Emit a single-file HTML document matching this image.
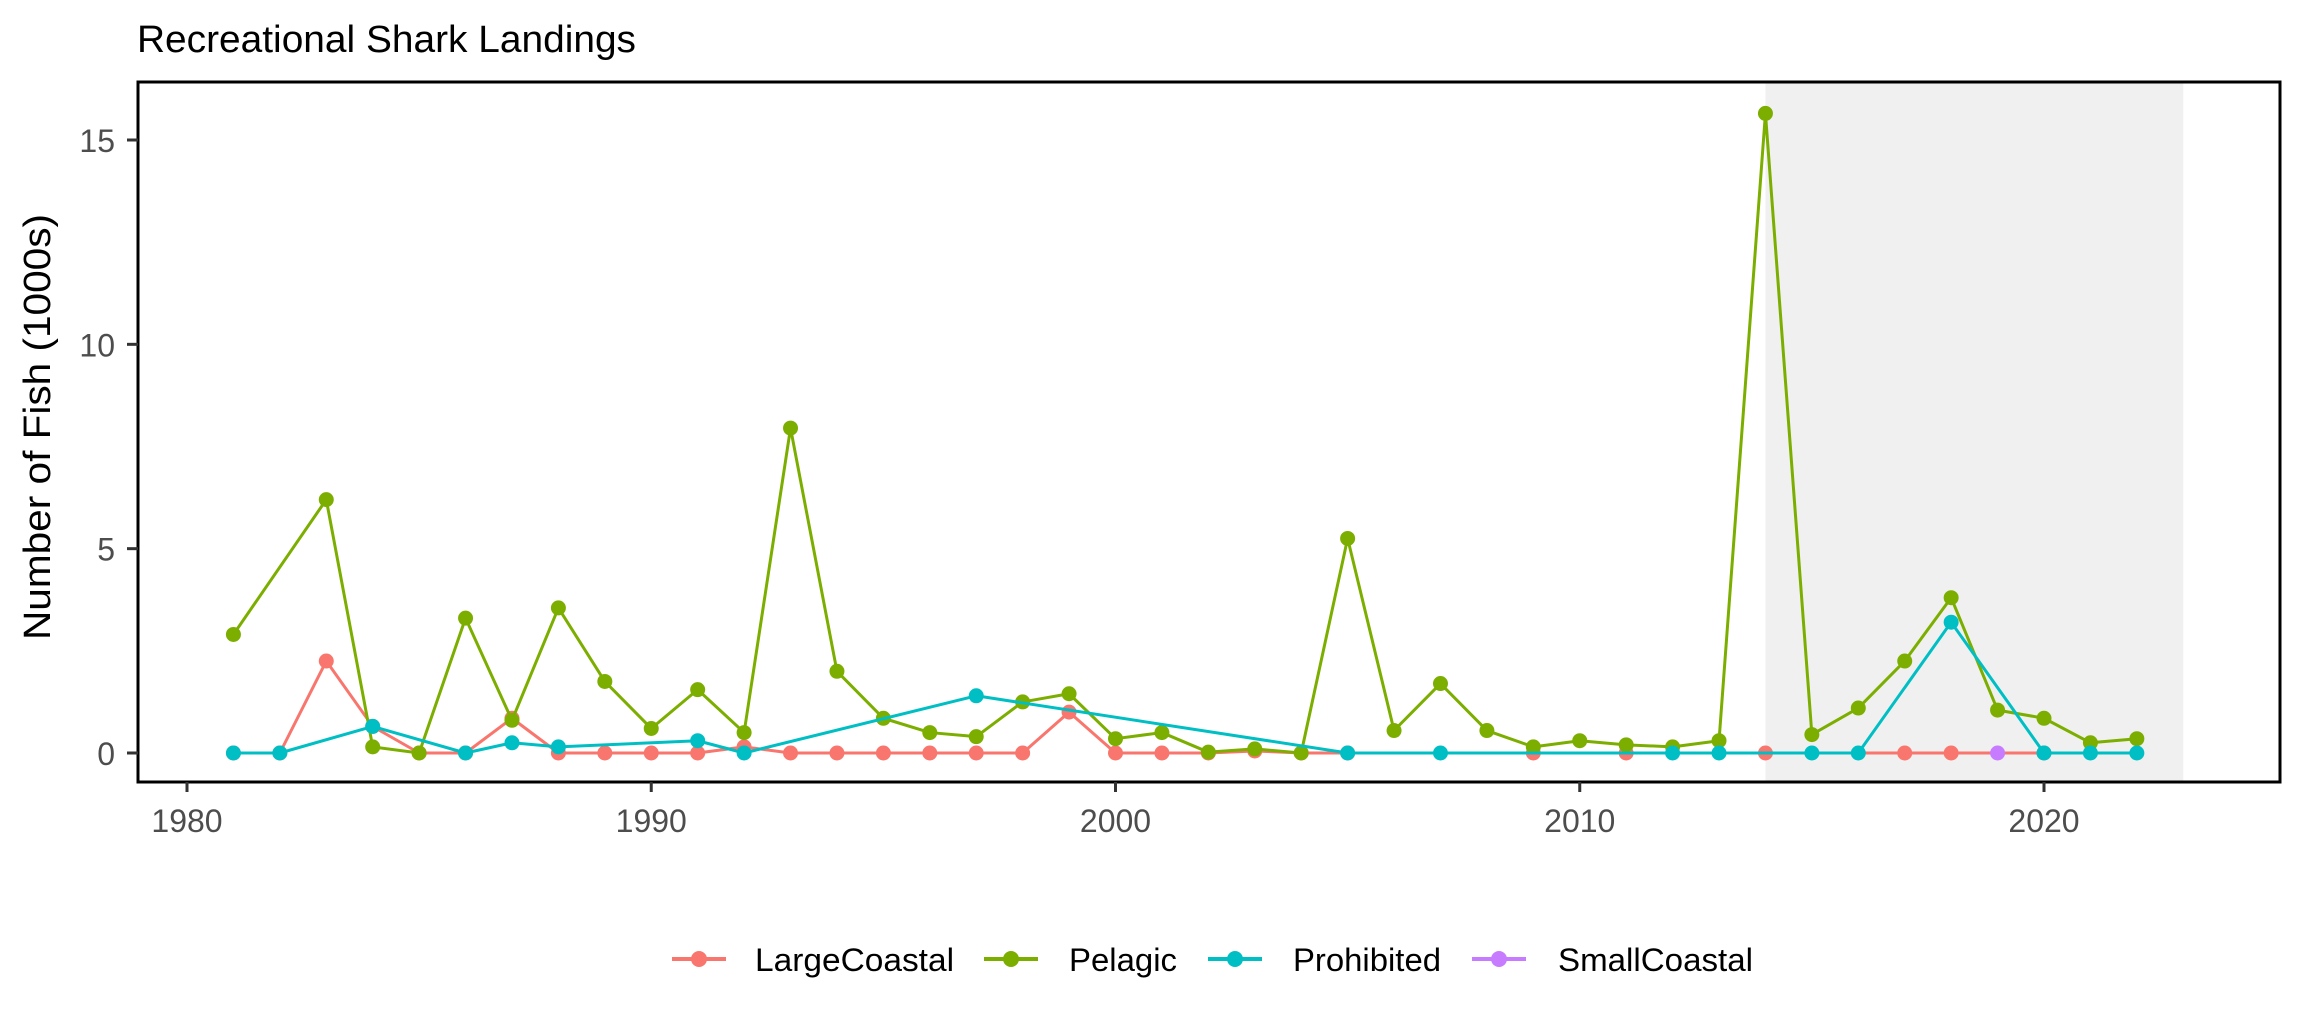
<!DOCTYPE html>
<html><head><meta charset="utf-8"><style>
html,body{margin:0;padding:0;background:#fff;}
svg{display:block;font-family:"Liberation Sans",Arial,sans-serif;}
</style></head><body>
<svg id="chart" width="2304" height="1036" viewBox="0 0 2304 1036" xmlns="http://www.w3.org/2000/svg">
<rect width="2304" height="1036" fill="#fff"/>
<text x="137" y="52" font-size="38" fill="#000" textLength="499" lengthAdjust="spacingAndGlyphs">Recreational Shark Landings</text>
<g id="plot"></g>
<text transform="translate(50,427) rotate(-90)" text-anchor="middle" font-size="38" fill="#000" textLength="426" lengthAdjust="spacingAndGlyphs">Number of Fish (1000s)</text>
<g id="legend"></g>
</svg>
<script>
const years = [1981,1982,1983,1984,1985,1986,1987,1988,1989,1990,1991,1992,1993,1994,1995,1996,1997,1998,1999,2000,2001,2002,2003,2004,2005,2006,2007,2008,2009,2010,2011,2012,2013,2014,2015,2016,2017,2018,2019,2020,2021,2022];
const pelagic = [2.9,null,6.2,0.15,0,3.3,0.8,3.55,1.75,0.6,1.55,0.5,7.95,2.0,0.85,0.5,0.4,1.25,1.45,0.35,0.5,0.02,0.1,0,5.25,0.55,1.7,0.55,0.15,0.3,0.2,0.15,0.3,15.65,0.45,1.1,2.25,3.8,1.05,0.85,0.25,0.35];
const largeCoastal = [0,0,2.25,0.65,0,0,0.85,0,0,0,0,0.15,0,0,0,0,0,0,1.0,0,0,0,0.05,0,0,null,null,null,0,null,0,null,null,0,null,null,0,0,null,0,null,null];
const prohibited = [0,0,null,0.65,null,0,0.25,0.15,null,null,0.3,0,null,null,null,null,1.4,null,null,null,null,null,null,null,0,null,0,null,null,null,null,0,0,null,0,0,null,3.2,null,0,0,0];
const smallCoastal = [null,null,null,null,null,null,null,null,null,null,null,null,null,null,null,null,null,null,null,null,null,null,null,null,null,null,null,null,null,null,null,null,null,null,null,null,null,null,0,null,null,null];
const seriesNames = ["LargeCoastal","Pelagic","Prohibited","SmallCoastal"];
const seriesColors = ["#F8766D","#7CAE00","#00BFC4","#C77CFF"];
const xTicks = [1980,1990,2000,2010,2020];
const yTicks = [0,5,10,15];
const shadeRange = [2014,2023];

const NS="http://www.w3.org/2000/svg";
const L=138,R=2280,T=82,B=782;
const xs=v=>187+(v-1980)*(2044-187)/40;
const ys=v=>753-v*(753-140)/15;
const plot=document.getElementById('plot');
function mk(tag,attrs,parent){const e=document.createElementNS(NS,tag);for(const k in attrs)e.setAttribute(k,attrs[k]);(parent||plot).appendChild(e);return e;}

const sh=mk('rect',{x:xs(shadeRange[0]),y:T,width:xs(shadeRange[1])-xs(shadeRange[0]),height:B-T,fill:'#F0F0F0'});



const allSeries=[largeCoastal,pelagic,prohibited,smallCoastal];
allSeries.forEach((vals,si)=>{
  const g=mk('g',{});
  
  
  const pts=[];
  vals.forEach((v,i)=>{if(v!==null)pts.push([xs(years[i]),ys(v)]);});
  if(pts.length>1){
    const ln=mk('polyline',{points:pts.map(p=>p.join(',')).join(' '),fill:'none',stroke:seriesColors[si],'stroke-width':3,'stroke-linejoin':'round'},g);
    
    
  }
  vals.forEach((v,i)=>{if(v===null)return;
    const c=mk('circle',{cx:xs(years[i]),cy:ys(v),r:7.5,fill:seriesColors[si]},g);
    
    
  });
});

const fr=mk('rect',{x:L,y:T,width:R-L,height:B-T,fill:'none',stroke:'#000','stroke-width':3});



xTicks.forEach(t=>{
  const tk=mk('line',{x1:xs(t),x2:xs(t),y1:B,y2:B+10,stroke:'#333','stroke-width':3});
  
  
  const tx=mk('text',{x:xs(t),y:832,'text-anchor':'middle','font-size':32,fill:'#4D4D4D'});
  tx.textContent=t;
  
  
});
yTicks.forEach(t=>{
  const tk=mk('line',{x1:L-11,x2:L,y1:ys(t),y2:ys(t),stroke:'#333','stroke-width':3});
  
  
  const tx=mk('text',{x:115,y:ys(t)+12,'text-anchor':'end','font-size':32,fill:'#4D4D4D'});
  tx.textContent=t;
  
  
});

const lg=document.getElementById('legend');
const keyX=[699,1011,1235,1499];
const textX=[755,1069,1293,1558];
const textW=[199,108,148,195];
seriesNames.forEach((n,i)=>{
  const g=mk('g',{},lg);
  
  
  mk('line',{x1:keyX[i]-27,x2:keyX[i]+27,y1:959,y2:959,stroke:seriesColors[i],'stroke-width':4},g);
  mk('circle',{cx:keyX[i],cy:959,r:8,fill:seriesColors[i]},g);
  const t=mk('text',{x:textX[i],y:971,'font-size':32,fill:'#000',textLength:textW[i],lengthAdjust:'spacingAndGlyphs'},g);
  t.textContent=n;
});
</script>
</body></html>
